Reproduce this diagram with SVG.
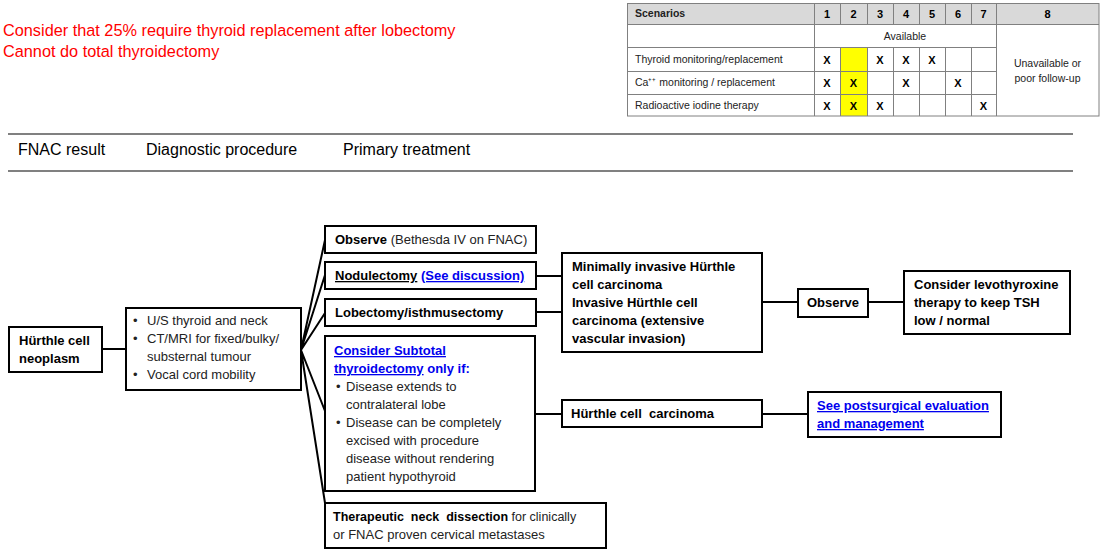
<svg xmlns="http://www.w3.org/2000/svg" width="1100" height="550" viewBox="0 0 1100 550">
<style>
text{font-family:"Liberation Sans",Arial,sans-serif;fill:#000}
.box{fill:#fff;stroke:#000;stroke-width:2}
.n{font-size:13px}
.s{font-size:12.5px}
.b{font-weight:bold}
.r{fill:#222}
.link{fill:#0000ee;font-weight:bold;text-decoration:underline}
.blue{fill:#0000ee;font-weight:bold}
.u{text-decoration:underline}
.conn{stroke:#000;stroke-width:2;fill:none}
.red{font-size:16.3px;fill:#ff0000}
.hdr{font-size:16px;fill:#000}
.tl{stroke:#808080;stroke-width:1;fill:none}
.tt{font-size:10.5px;fill:#222}
.tc{font-size:10.5px;text-anchor:middle;fill:#222}
.x{font-size:11px;font-weight:bold;text-anchor:middle}
.pre{white-space:pre}
</style>

<g id="note">
<text class="red" x="3" y="36">Consider that 25% require thyroid replacement after lobectomy</text>
<text class="red" x="3" y="57">Cannot do total thyroidectomy</text>
</g>

<g id="scenario-table">
<rect x="627" y="3" width="472" height="21" fill="#d9d9d9"/>
<rect x="840" y="47" width="27" height="69" fill="#ffff00"/>
<rect class="tl" x="627.5" y="3.5" width="471.5" height="112.5"/>
<path class="tl" d="M627 24.5H1099M627 47.5H996M627 71.5H996M627 94.5H996M814.5 3V116M996.5 3V116M840.5 3V24M867.5 3V24M893.5 3V24M919.5 3V24M945.5 3V24M971.5 3V24M840.5 47V116M867.5 47V116M893.5 47V116M919.5 47V116M945.5 47V116M971.5 47V116"/>
<text class="tt b" x="635" y="17">Scenarios</text>
<text class="x" x="827" y="18">1</text>
<text class="x" x="853.5" y="18">2</text>
<text class="x" x="880" y="18">3</text>
<text class="x" x="906" y="18">4</text>
<text class="x" x="932" y="18">5</text>
<text class="x" x="958" y="18">6</text>
<text class="x" x="983.5" y="18">7</text>
<text class="x" x="1047.5" y="18">8</text>
<text class="tc" x="905" y="40">Available</text>
<text class="tt" x="635" y="63">Thyroid monitoring/replacement</text>
<text class="tt" x="635" y="86">Ca⁺⁺ monitoring / replacement</text>
<text class="tt" x="635" y="109">Radioactive iodine therapy</text>
<text class="tc" x="1047.5" y="67">Unavailable or</text>
<text class="tc" x="1047.5" y="82">poor follow-up</text>
<text class="x" x="827" y="64">X</text>
<text class="x" x="880" y="64">X</text>
<text class="x" x="906" y="64">X</text>
<text class="x" x="932" y="64">X</text>
<text class="x" x="827" y="87">X</text>
<text class="x" x="853.5" y="87">X</text>
<text class="x" x="906" y="87">X</text>
<text class="x" x="958" y="87">X</text>
<text class="x" x="827" y="110">X</text>
<text class="x" x="853.5" y="110">X</text>
<text class="x" x="880" y="110">X</text>
<text class="x" x="983.5" y="110">X</text>
</g>

<g id="header">
<path d="M8 134H1073M8 171H1073" stroke="#808080" stroke-width="2"/>
<text class="hdr" x="18" y="155">FNAC result</text>
<text class="hdr" x="146" y="155">Diagnostic procedure</text>
<text class="hdr" x="343" y="155">Primary treatment</text>
</g>

<g id="connectors">
<path class="conn" d="M102 349H126"/>
<path class="conn" d="M301 350L325 240M301 350L325 275M301 350L325 313M301 350L325 411M301 350L325 503"/>
<path class="conn" d="M536 276H562M536 312H562M535 414H562"/>
<path class="conn" d="M762 302H798M868 302H904M762 414H808"/>
</g>

<g id="node-neoplasm">
<rect class="box" x="9" y="327" width="93" height="45"/>
<text class="n b" x="19" y="345">Hürthle cell</text>
<text class="n b" x="19" y="363">neoplasm</text>
</g>

<g id="node-diagnostic">
<rect class="box" x="126" y="308" width="175" height="82"/>
<text class="n r" x="133" y="325">•</text><text class="n r" x="147" y="325">U/S thyroid and neck</text>
<text class="n r" x="133" y="343">•</text><text class="n r" x="147" y="343">CT/MRI for fixed/bulky/</text>
<text class="n r" x="147" y="361">substernal tumour</text>
<text class="n r" x="133" y="379">•</text><text class="n r" x="147" y="379">Vocal cord mobility</text>
</g>

<g id="node-observe">
<rect class="box" x="325" y="226" width="211" height="27"/>
<text class="n" x="335" y="244"><tspan class="b">Observe</tspan><tspan class="r"> (Bethesda IV on FNAC)</tspan></text>
</g>

<g id="node-nodulectomy">
<rect class="box" x="325" y="262" width="211" height="27"/>
<text class="n" x="335" y="280"><tspan class="b u">Nodulectomy</tspan> <tspan class="link">(See discussion)</tspan></text>
</g>

<g id="node-lobectomy">
<rect class="box" x="325" y="299" width="211" height="27"/>
<text class="n b" x="335" y="317">Lobectomy/isthmusectomy</text>
</g>

<g id="node-subtotal">
<rect class="box" x="325" y="336" width="210" height="155"/>
<text class="n link" x="334" y="355">Consider Subtotal</text>
<text class="n" x="334" y="373"><tspan class="link">thyroidectomy</tspan><tspan class="blue"> only if:</tspan></text>
<text class="n r" x="336" y="391">•</text><text class="n r" x="346" y="391">Disease extends to</text>
<text class="n r" x="346" y="409">contralateral lobe</text>
<text class="n r" x="336" y="427">•</text><text class="n r" x="346" y="427">Disease can be completely</text>
<text class="n r" x="346" y="445">excised with procedure</text>
<text class="n r" x="346" y="463">disease without rendering</text>
<text class="n r" x="346" y="481">patient hypothyroid</text>
</g>

<g id="node-neck-dissection">
<rect class="box" x="325" y="503" width="281" height="45"/>
<text class="s pre" x="333" y="521" xml:space="preserve"><tspan class="b">Therapeutic  neck  dissection</tspan><tspan class="r"> for clinically</tspan></text>
<text class="n r" x="333" y="539">or FNAC proven cervical metastases</text>
</g>

<g id="node-invasive">
<rect class="box" x="562" y="253" width="200" height="99"/>
<text class="n b" x="572" y="271">Minimally invasive Hürthle</text>
<text class="n b" x="572" y="289">cell carcinoma</text>
<text class="n b" x="572" y="307">Invasive Hürthle cell</text>
<text class="n b" x="572" y="325">carcinoma (extensive</text>
<text class="n b" x="572" y="343">vascular invasion)</text>
</g>

<g id="node-carcinoma">
<rect class="box" x="562" y="400" width="200" height="27"/>
<text class="n b pre" x="571" y="418" xml:space="preserve">Hürthle cell  carcinoma</text>
</g>

<g id="node-observe2">
<rect class="box" x="798" y="289" width="70" height="28"/>
<text class="n b" x="807" y="307">Observe</text>
</g>

<g id="node-levothyroxine">
<rect class="box" x="904" y="271" width="166" height="63"/>
<text class="n b" x="914" y="289">Consider levothyroxine</text>
<text class="n b" x="914" y="307">therapy to keep TSH</text>
<text class="n b" x="914" y="325">low / normal</text>
</g>

<g id="node-postsurgical">
<rect class="box" x="808" y="392" width="193" height="45"/>
<text class="n link" x="817" y="410">See postsurgical evaluation</text>
<text class="n link" x="817" y="428">and management</text>
</g>
</svg>
